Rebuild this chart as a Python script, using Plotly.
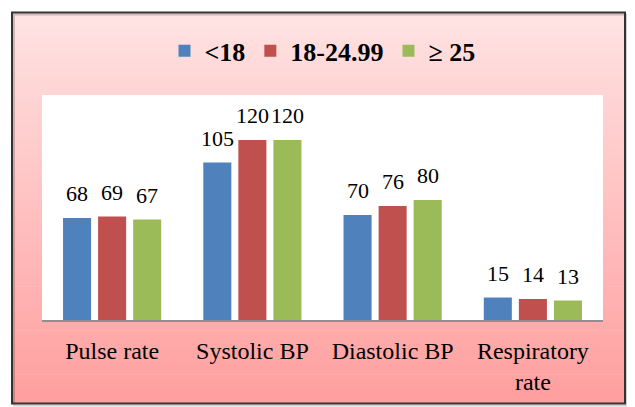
import plotly.graph_objects as go

categories = ["Pulse rate", "Systolic BP", "Diastolic BP", "Respiratory<br>rate"]
series_names = ["<18", "18-24.99", "\u2265 25"]
values_lt18 = [68, 105, 70, 15]
values_18_25 = [69, 120, 76, 14]
values_ge25 = [67, 120, 80, 13]
series_values = [values_lt18, values_18_25, values_ge25]
colors = ["#4F81BD", "#C0504D", "#9BBB59"]

SERIF = "Liberation Serif, Times New Roman, serif"

OFF = 8  # page body margin
W, H = 635 - OFF, 407 - OFF
L, R, T, B = 42 - OFF, 603 - OFF, 95 - OFF, 324 - OFF


def px_x(x):
    return (x - OFF - L) / (R - L)


def px_y(y):
    return (B - (y - OFF)) / (B - T)


fig = go.Figure()
for name, vals, col in zip(series_names, series_values, colors):
    fig.add_trace(go.Bar(x=categories, y=vals, name=name,
                         marker=dict(color=col, line=dict(width=0))))

# data labels
annotations = []
slot_shift = [-35, 0, 35]
for j, vals in enumerate(series_values):
    for cat, v in zip(categories, vals):
        annotations.append(dict(x=cat, y=v, xref="x", yref="y", text=str(v),
                                showarrow=False, yanchor="bottom", xanchor="center",
                                xshift=slot_shift[j], yshift=10,
                                font=dict(family=SERIF, size=22, color="black")))

# background gradient, border, white plot area
shapes = []
top_c = (255, 227, 227)
bot_c = (255, 158, 158)
x_left, x_right = 12, 625
y_top, y_bot = 11, 409
n = 80
for i in range(n):
    f = (i + 0.5) / n
    c = tuple(round(top_c[k] + (bot_c[k] - top_c[k]) * f) for k in range(3))
    ya = y_top + (y_bot - y_top) * i / n
    yb = y_top + (y_bot - y_top) * (i + 1) / n + 0.6
    shapes.append(dict(type="rect", xref="paper", yref="paper",
                       x0=px_x(x_left), x1=px_x(x_right), y0=px_y(yb), y1=px_y(ya),
                       fillcolor="rgb(%d,%d,%d)" % c, line=dict(width=0), layer="below"))
shapes.append(dict(type="rect", xref="paper", yref="paper",
                   x0=px_x(x_left + 2), x1=px_x(x_right + 2), y0=px_y(y_bot + 2), y1=px_y(y_top + 2),
                   line=dict(color="rgba(0,0,0,0.18)", width=2), layer="below"))
shapes.append(dict(type="rect", xref="paper", yref="paper",
                   x0=px_x(x_left), x1=px_x(x_right), y0=px_y(y_bot), y1=px_y(y_top),
                   line=dict(color="#333333", width=2), layer="below"))
shapes.append(dict(type="rect", xref="paper", yref="paper",
                   x0=0, x1=1, y0=0, y1=1, fillcolor="white",
                   line=dict(width=0), layer="below"))

fig.update_layout(
    width=W, height=H,
    margin=dict(l=L, r=W - R, t=T, b=H - B, pad=0),
    paper_bgcolor="white", plot_bgcolor="white",
    barmode="group", bargap=0.25, bargroupgap=0.2,
    shapes=shapes, annotations=annotations,
    showlegend=True,
    legend=dict(orientation="h", x=0.5, xanchor="center", y=px_y(50), yanchor="middle",
                font=dict(family=SERIF, size=26, color="black", weight="bold"),
                bgcolor="rgba(0,0,0,0)", itemwidth=30, traceorder="normal"),
    xaxis=dict(showline=True, linecolor="#8f8f8f", linewidth=2, ticks="",
               showgrid=False, zeroline=False, ticklabelstandoff=8,
               tickfont=dict(family=SERIF, size=24, color="black")),
    yaxis=dict(range=[0, 150], visible=False, showgrid=False, zeroline=False),
)

fig.write_html("out.html")
